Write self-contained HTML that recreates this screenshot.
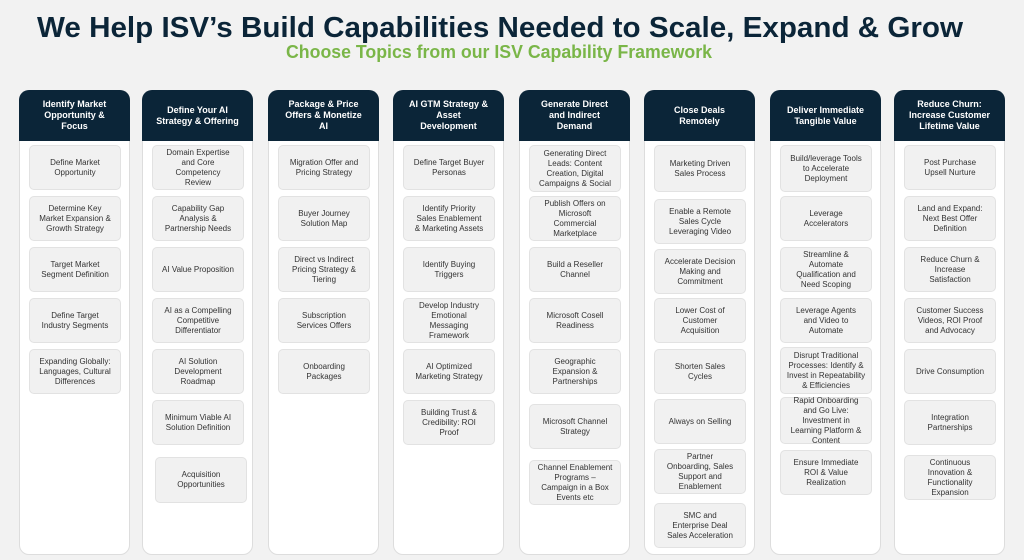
<!DOCTYPE html>
<html><head><meta charset="utf-8"><style>
body{margin:0;width:1024px;height:560px;background:#f2f2f2;position:relative;overflow:hidden;font-family:"Liberation Sans",sans-serif}
.col{position:absolute;top:90px;width:111px;height:465px;background:#fff;border:1px solid #ddd;border-radius:10px;box-sizing:border-box}
.hd{position:absolute;left:-1px;top:-1px;width:111px;height:51px;background:#0b2538;color:#fff;border-radius:10px 10px 0 0;font-weight:bold;font-size:9px;line-height:11px;display:flex;align-items:center;justify-content:center;text-align:center;padding:0 14px;box-sizing:border-box}
.b{position:absolute;width:92px;background:#f1f1f1;border:1px solid #e2e2e2;border-radius:5px;box-sizing:border-box;font-size:8px;line-height:10px;color:#333;display:flex;align-items:center;justify-content:center;text-align:center;padding:0 9px}
</style></head><body>
<svg style="position:absolute;left:0;top:0" width="1024" height="70">
<text x="37" y="37" textLength="926" lengthAdjust="spacingAndGlyphs" font-family="Liberation Sans" font-weight="bold" font-size="29" fill="#0b2538">We Help ISV’s Build Capabilities Needed to Scale, Expand &amp; Grow</text>
<text x="286" y="58" textLength="426" lengthAdjust="spacingAndGlyphs" font-family="Liberation Sans" font-weight="bold" font-size="18" fill="#7ab648">Choose Topics from our ISV Capability Framework</text>
</svg>

<div class="col" style="left:19px"><div class="hd">Identify Market Opportunity &amp; Focus</div></div>
<div class="col" style="left:142px"><div class="hd">Define Your AI Strategy &amp; Offering</div></div>
<div class="col" style="left:268px"><div class="hd">Package &amp; Price Offers &amp; Monetize AI</div></div>
<div class="col" style="left:393px"><div class="hd">AI GTM Strategy &amp; Asset Development</div></div>
<div class="col" style="left:519px"><div class="hd">Generate Direct and Indirect Demand</div></div>
<div class="col" style="left:644px"><div class="hd">Close Deals Remotely</div></div>
<div class="col" style="left:770px"><div class="hd">Deliver Immediate Tangible Value</div></div>
<div class="col" style="left:894px"><div class="hd" style="padding:0 8px">Reduce Churn: Increase Customer Lifetime Value</div></div>

<div class="b" style="left:29px;top:145px;height:45px">Define Market Opportunity</div>
<div class="b" style="left:29px;top:196px;height:45px">Determine Key Market Expansion &amp; Growth Strategy</div>
<div class="b" style="left:29px;top:247px;height:45px">Target Market Segment Definition</div>
<div class="b" style="left:29px;top:298px;height:45px">Define Target Industry Segments</div>
<div class="b" style="left:29px;top:349px;height:45px">Expanding Globally: Languages, Cultural Differences</div>

<div class="b" style="left:152px;top:145px;height:45px">Domain Expertise and Core Competency Review</div>
<div class="b" style="left:152px;top:196px;height:45px">Capability Gap Analysis &amp; Partnership Needs</div>
<div class="b" style="left:152px;top:247px;height:45px">AI Value Proposition</div>
<div class="b" style="left:152px;top:298px;height:45px">AI as a Compelling Competitive Differentiator</div>
<div class="b" style="left:152px;top:349px;height:45px">AI Solution Development Roadmap</div>
<div class="b" style="left:152px;top:400px;height:45px">Minimum Viable AI Solution Definition</div>
<div class="b" style="left:155px;top:457px;height:46px">Acquisition Opportunities</div>

<div class="b" style="left:278px;top:145px;height:45px">Migration Offer and Pricing Strategy</div>
<div class="b" style="left:278px;top:196px;height:45px">Buyer Journey Solution Map</div>
<div class="b" style="left:278px;top:247px;height:45px">Direct vs Indirect Pricing Strategy &amp; Tiering</div>
<div class="b" style="left:278px;top:298px;height:45px">Subscription Services Offers</div>
<div class="b" style="left:278px;top:349px;height:45px">Onboarding Packages</div>

<div class="b" style="left:403px;top:145px;height:45px">Define Target Buyer Personas</div>
<div class="b" style="left:403px;top:196px;height:45px">Identify Priority Sales Enablement &amp; Marketing Assets</div>
<div class="b" style="left:403px;top:247px;height:45px">Identify Buying Triggers</div>
<div class="b" style="left:403px;top:298px;height:45px">Develop Industry Emotional Messaging Framework</div>
<div class="b" style="left:403px;top:349px;height:45px">AI Optimized Marketing Strategy</div>
<div class="b" style="left:403px;top:400px;height:45px">Building Trust &amp; Credibility: ROI Proof</div>

<div class="b" style="left:529px;top:145px;height:47px;padding:0 5px">Generating Direct Leads: Content Creation, Digital Campaigns &amp; Social</div>
<div class="b" style="left:529px;top:196px;height:45px">Publish Offers on Microsoft Commercial Marketplace</div>
<div class="b" style="left:529px;top:247px;height:45px">Build a Reseller Channel</div>
<div class="b" style="left:529px;top:298px;height:45px">Microsoft Cosell Readiness</div>
<div class="b" style="left:529px;top:349px;height:45px">Geographic Expansion &amp; Partnerships</div>
<div class="b" style="left:529px;top:404px;height:45px">Microsoft Channel Strategy</div>
<div class="b" style="left:529px;top:460px;height:45px;padding:0 5px">Channel Enablement Programs – Campaign in a Box Events etc</div>

<div class="b" style="left:654px;top:145px;height:47px">Marketing Driven Sales Process</div>
<div class="b" style="left:654px;top:199px;height:45px">Enable a Remote Sales Cycle Leveraging Video</div>
<div class="b" style="left:654px;top:249px;height:45px">Accelerate Decision Making and Commitment</div>
<div class="b" style="left:654px;top:298px;height:45px">Lower Cost of Customer Acquisition</div>
<div class="b" style="left:654px;top:349px;height:45px">Shorten Sales Cycles</div>
<div class="b" style="left:654px;top:399px;height:45px">Always on Selling</div>
<div class="b" style="left:654px;top:449px;height:45px">Partner Onboarding, Sales Support and Enablement</div>
<div class="b" style="left:654px;top:503px;height:45px">SMC and Enterprise Deal Sales Acceleration</div>

<div class="b" style="left:780px;top:145px;height:47px">Build/leverage Tools to Accelerate Deployment</div>
<div class="b" style="left:780px;top:196px;height:45px">Leverage Accelerators</div>
<div class="b" style="left:780px;top:247px;height:45px">Streamline &amp; Automate Qualification and Need Scoping</div>
<div class="b" style="left:780px;top:298px;height:45px">Leverage Agents and Video to Automate</div>
<div class="b" style="left:780px;top:347px;height:47px;padding:0 4px">Disrupt Traditional Processes: Identify &amp; Invest in Repeatability &amp; Efficiencies</div>
<div class="b" style="left:780px;top:397px;height:47px;padding:0 5px">Rapid Onboarding and Go Live: Investment in Learning Platform &amp; Content</div>
<div class="b" style="left:780px;top:450px;height:45px">Ensure Immediate ROI &amp; Value Realization</div>

<div class="b" style="left:904px;top:145px;height:45px">Post Purchase Upsell Nurture</div>
<div class="b" style="left:904px;top:196px;height:45px">Land and Expand: Next Best Offer Definition</div>
<div class="b" style="left:904px;top:247px;height:45px">Reduce Churn &amp; Increase Satisfaction</div>
<div class="b" style="left:904px;top:298px;height:45px">Customer Success Videos, ROI Proof and Advocacy</div>
<div class="b" style="left:904px;top:349px;height:45px">Drive Consumption</div>
<div class="b" style="left:904px;top:400px;height:45px">Integration Partnerships</div>
<div class="b" style="left:904px;top:455px;height:45px">Continuous Innovation &amp; Functionality Expansion</div>
</body></html>
